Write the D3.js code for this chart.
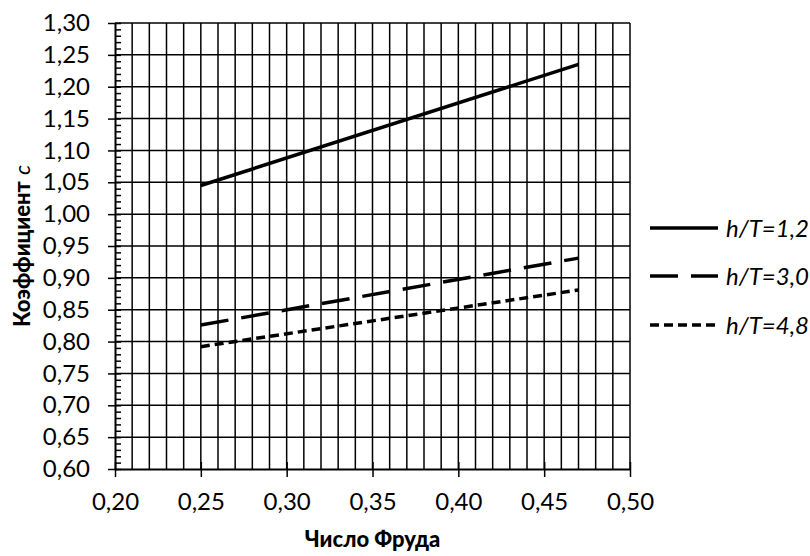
<!DOCTYPE html>
<html><head><meta charset="utf-8">
<script src="https://cdn.jsdelivr.net/npm/d3@7"></script>
<style>
body{margin:0;background:#fff;}
svg{display:block;}
</style></head>
<body><svg id="c" width="810" height="556"></svg>
<script>
const froude = [0.25, 0.47];
const seriesNames = ["h/T=1,2", "h/T=3,0", "h/T=4,8"];
const s12 = [1.045, 1.235];
const s30 = [0.826, 0.931];
const s48 = [0.792, 0.881];
const seriesValues = [s12, s30, s48];
const dashes = [null, "28,13", "9,5"];
const xTicks = [0.20, 0.25, 0.30, 0.35, 0.40, 0.45, 0.50];
const yTicks = [0.60,0.65,0.70,0.75,0.80,0.85,0.90,0.95,1.00,1.05,1.10,1.15,1.20,1.25,1.30];

const svg = d3.select("#c");
const L = 115, R = 630, T = 23, B = 469;
const x = d3.scaleLinear().domain([0.20, 0.50]).range([L, R]);
const y = d3.scaleLinear().domain([0.60, 1.30]).range([B, T]);
const fmt = d => d.toFixed(2).replace(".", ",");
const font = "Lato, 'Open Sans', sans-serif";

// grid
const vgrid = d3.range(21, 51).map(i => i / 100);
svg.append("g").selectAll("line").data(vgrid).join("line")
  .attr("x1", d => x(d)).attr("x2", d => x(d)).attr("y1", T).attr("y2", B)
  .attr("stroke", "#000").attr("stroke-width", 1.5);
svg.append("g").selectAll("line").data(yTicks.slice(1)).join("line")
  .attr("x1", L).attr("x2", R).attr("y1", d => y(d)).attr("y2", d => y(d))
  .attr("stroke", "#000").attr("stroke-width", 1.5);

// y axis minor
const yMinor = d3.range(60, 131).map(i => i / 100);
svg.append("g").attr("transform", `translate(${L},0)`)
  .call(d3.axisRight(y).tickValues(yMinor).tickSize(6).tickFormat(""))
  .call(g => { g.select(".domain").remove(); g.selectAll("line").attr("stroke", "#000").attr("stroke-width", 1.5); });
// y axis major
svg.append("g").attr("transform", `translate(${L},0)`)
  .call(d3.axisLeft(y).tickValues(yTicks).tickSizeInner(7).tickSizeOuter(0).tickPadding(18).tickFormat(fmt))
  .call(g => {
    g.select(".domain").attr("stroke", "#000").attr("stroke-width", 2);
    g.selectAll("line").attr("stroke", "#000").attr("stroke-width", 1.5);
    g.selectAll("text").attr("font-family", font).attr("font-size", 24).attr("fill", "#000");
  });
// x axis
svg.append("g").attr("transform", `translate(0,${B})`)
  .call(d3.axisBottom(x).tickValues(xTicks).tickSizeInner(8).tickSizeOuter(0).tickPadding(16).tickFormat(fmt))
  .call(g => {
    g.select(".domain").attr("stroke", "#000").attr("stroke-width", 2);
    g.selectAll("line").attr("stroke", "#000").attr("stroke-width", 1.5);
    g.selectAll("text").attr("font-family", font).attr("font-size", 24).attr("fill", "#000");
  });
svg.append("g").attr("transform", `translate(0,${B})`)
  .call(d3.axisTop(x).tickValues(xTicks).tickSize(7).tickFormat(""))
  .call(g => { g.select(".domain").remove(); g.selectAll("line").attr("stroke", "#000").attr("stroke-width", 1.5); });

// series lines
const line = d3.line().x((d, i) => x(froude[i])).y(d => y(d));
seriesValues.forEach((vals, k) => {
  svg.append("path").attr("d", line(vals)).attr("fill", "none")
    .attr("stroke", "#000").attr("stroke-width", 3.5)
    .attr("stroke-dasharray", dashes[k]);
});

// axis titles
svg.append("text").attr("x", (L + R) / 2).attr("y", 547).attr("text-anchor", "middle")
  .attr("font-family", font).attr("font-weight", "900").attr("font-size", 22).text("Число Фруда");
const yt = svg.append("text").attr("transform", `translate(30,${(T + B) / 2}) rotate(-90)`)
  .attr("text-anchor", "middle").attr("font-family", font).attr("font-size", 22);
yt.append("tspan").attr("font-weight", "900").text("Коэффициент");
yt.append("tspan").attr("font-style", "italic").attr("dx", 6).text("c");

// legend
const ly = [228, 276, 325];
seriesNames.forEach((n, k) => {
  svg.append("line").attr("x1", 650).attr("x2", 718).attr("y1", ly[k]).attr("y2", ly[k])
    .attr("stroke", "#000").attr("stroke-width", 3.5).attr("stroke-dasharray", dashes[k]);
  svg.append("text").attr("x", 726).attr("y", ly[k] + 9).attr("font-family", font)
    .attr("font-style", "italic").attr("font-size", 24).text(n);
});
</script></body></html>
